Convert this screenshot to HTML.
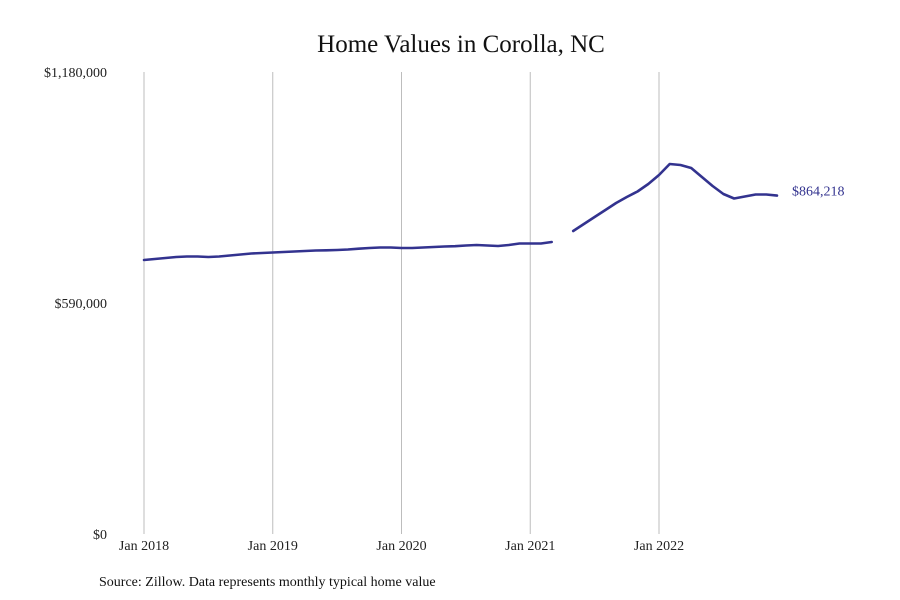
<!DOCTYPE html>
<html><head><meta charset="utf-8"><style>
body{margin:0;background:#fff;}
svg{display:block;font-family:"Liberation Serif",serif;}
</style></head><body>
<svg id="chart" width="900" height="600">
<text x="461" y="52" text-anchor="middle" font-size="25" fill="#111">Home Values in Corolla, NC</text>
<g id="grid"></g>
<g id="yaxis"></g>
<g id="xaxis"></g>
<g id="series"></g>
<text x="99" y="586" font-size="14" fill="#111">Source: Zillow. Data represents monthly typical home value</text>
</svg>
<script>
const values = [
699.8,702.4,704.9,707.5,708.7,708.7,707.5,708.7,711.3,713.9,716.4,717.7,
719.0,720.3,721.5,722.8,724.1,724.6,725.4,726.6,728.7,730.5,731.7,731.7,
730.5,730.5,731.7,733.0,734.3,735.1,736.8,738.1,736.8,735.6,738.1,742.0,
742.0,742.0,745.8,null,773.9,791.8,809.6,827.5,845.4,860.7,874.8,893.9,
916.9,945.0,942.5,934.8,911.8,888.8,868.4,856.9,862.0,867.1,867.1,864.218
];
const xTickLabels = ["Jan 2018","Jan 2019","Jan 2020","Jan 2021","Jan 2022"];
const xTickMonths = [0,12,24,36,48];
const yTickValues = [0,590,1180];
const yTickLabels = ["$0","$590,000","$1,180,000"];
const lastLabel = "$864,218";

const NS="http://www.w3.org/2000/svg";
const x0=144, monthW=(659-144)/48, yTop=72, yBot=534, yMax=1180;
const xs=i=>x0+i*monthW;
const ys=v=>yBot-(v/yMax)*(yBot-yTop);
function mk(tag,attrs,parent){const e=document.createElementNS(NS,tag);for(const k in attrs)e.setAttribute(k,attrs[k]);parent.appendChild(e);return e;}
const grid=document.getElementById('grid'),xa=document.getElementById('xaxis'),ya=document.getElementById('yaxis'),ser=document.getElementById('series');
xTickMonths.forEach((m,i)=>{
  const l=mk('line',{x1:xs(m),x2:xs(m),y1:yTop,y2:yBot,stroke:'#bdbdbd','stroke-width':1},grid);
  
  
  const t=mk('text',{x:xs(m),y:550,'text-anchor':'middle','font-size':14,fill:'#222'},xa);
  t.textContent=xTickLabels[i];
  
  
});
yTickValues.forEach((v,i)=>{
  const t=mk('text',{x:107,y:ys(v)+5,'text-anchor':'end','font-size':14,fill:'#222'},ya);
  t.textContent=yTickLabels[i];
  
  
});
let segs=[],cur=[];
values.forEach((v,i)=>{if(v==null){if(cur.length)segs.push(cur);cur=[];}else cur.push([xs(i),ys(v)]);});
if(cur.length)segs.push(cur);
segs.forEach(s=>{
  const p=mk('path',{d:'M'+s.map(q=>q[0].toFixed(1)+','+q[1].toFixed(1)).join('L'),fill:'none',stroke:'#33338f','stroke-width':2.6,'stroke-linejoin':'round','stroke-linecap':'round'},ser);
  
  
});
const li=values.length-1;
const lt=mk('text',{x:xs(li)+15,y:ys(values[li])+0,'font-size':14,fill:'#33338f'},ser);
lt.textContent=lastLabel;


</script>
</body></html>
